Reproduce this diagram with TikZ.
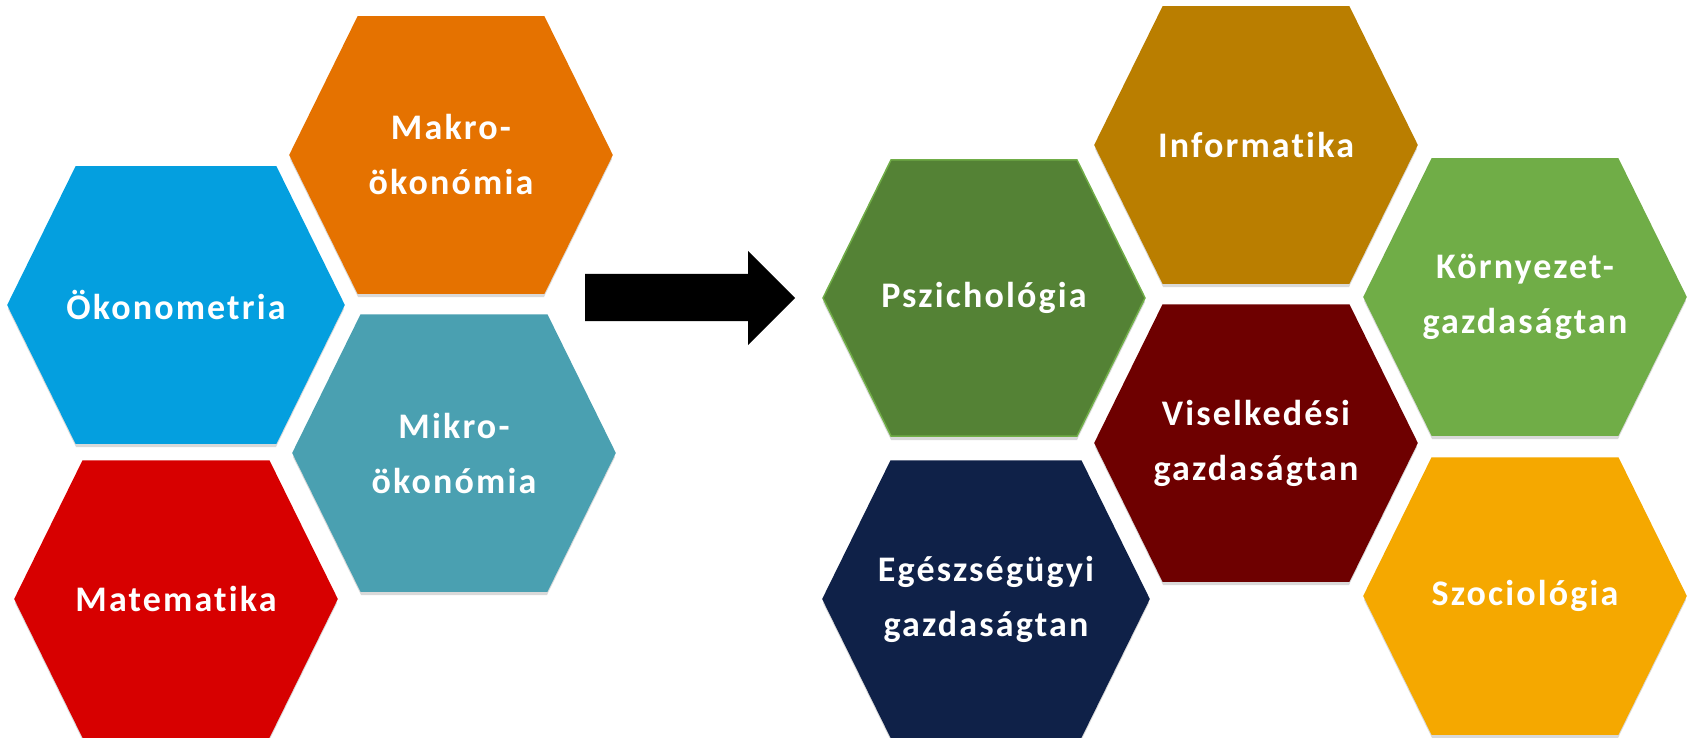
\documentclass[tikz,border=0pt]{standalone}
\usepackage{fontspec}
\setmainfont{Carlito}
\newfontfamily\hexfont[LetterSpace=6.0, Ligatures=NoCommon]{Carlito}
\usetikzlibrary{shadows}

\definecolor{makrocol}{HTML}{E57200}
\definecolor{okonocol}{HTML}{049FDF}
\definecolor{mikrocol}{HTML}{4AA0B1}
\definecolor{matekcol}{HTML}{D70000}
\definecolor{infocol}{HTML}{BA7E00}
\definecolor{pszichocol}{HTML}{548235}
\definecolor{kornycol}{HTML}{70AD47}
\definecolor{viselkcol}{HTML}{6E0000}
\definecolor{egeszcol}{HTML}{0F2148}
\definecolor{szociocol}{HTML}{F5A800}

\begin{document}
\begin{tikzpicture}[x=1pt, y=-1pt,
    hexa/.style={drop shadow={shadow xshift=0pt, shadow yshift=-4pt, opacity=0.3}},
    hextext/.style={text=white, align=center, font=\hexfont\bfseries\fontsize{36}{55}\selectfont}]
  \useasboundingbox (0,0) rectangle (1690,738);

  % name / centre / half width / fill / border / text
  \foreach \name/\cx/\cy/\hw/\col/\bd/\txt in {
      makro/451/155/161/makrocol/makrocol/{Makro-\\ökonómia},
      okonometria/176/305/168/okonocol/okonocol/{Ökonometria},
      mikro/454/453/161/mikrocol/mikrocol/{Mikro-\\ökonómia},
      matek/176/599/161/matekcol/matekcol/{Matematika},
      info/1256/145/161/infocol/infocol/{Informatika},
      pszicho/984/298/161/pszichocol/kornycol/{Pszichológia},
      kornyezet/1525/297/161/kornycol/kornycol/{Környezet-\\gazdaságtan},
      viselkedes/1256/443/161/viselkcol/viselkcol/{Viselkedési\\gazdaságtan},
      egeszseg/986/599/163/egeszcol/egeszcol/{Egészségügyi\\gazdaságtan},
      szocio/1525/596/161/szociocol/szociocol/{Szociológia}} {
    \filldraw[hexa, fill=\col, draw=\bd, line width=1.5pt]
      (\cx,\cy) ++(-\hw,0) -- ++(68,-138) -- ++(2*\hw-136,0) -- ++(68,138)
      -- ++(-68,138) -- ++(136-2*\hw,0) -- cycle;
    \node[hextext] (\name) at (\cx,\cy) {\txt};
  }

  % block arrow between the two groups
  \fill[black] (585,274) -- (748,274) -- (748,251) -- (795,298)
    -- (748,345) -- (748,321) -- (585,321) -- cycle;
\end{tikzpicture}
\end{document}
